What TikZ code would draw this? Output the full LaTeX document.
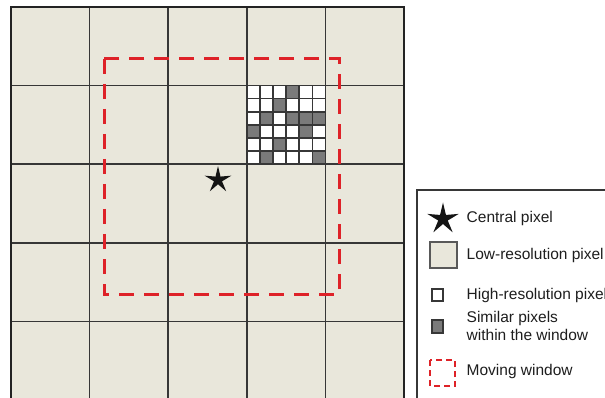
\documentclass[tikz,border=0pt]{standalone}
\usepackage{fontspec}
\setmainfont{Liberation Sans}
\usetikzlibrary{shapes.geometric}
\definecolor{lowres}{RGB}{233,231,219}
\definecolor{simgray}{RGB}{122,122,122}
\definecolor{gridline}{RGB}{55,55,55}
\definecolor{borderc}{RGB}{35,35,35}
\definecolor{winred}{RGB}{222,34,40}
\definecolor{textc}{RGB}{30,30,30}
\tikzset{
  innerline/.style={draw=gridline, line width=1.7},
  outerline/.style={draw=borderc, line width=2.8},
  hrline/.style={draw=gridline, line width=1.6},
  movewin/.style={draw=winred, line width=3, dash pattern=on 15 off 10},
  legwin/.style={draw=winred, line width=1.6, dash pattern=on 6 off 4},
  starmark/.style={star, star points=5, star point ratio=3.3, fill=black!92, draw=none, inner sep=0pt},
  legtext/.style={anchor=west, inner sep=0pt, text=textc, font=\fontsize{15.5}{18}\selectfont, align=left},
}
\begin{document}
\begin{tikzpicture}[x=1pt,y=-1pt]
\useasboundingbox (0,0) rectangle (605,398);
\clip (0,0) rectangle (605,398);
\fill[white] (0,0) rectangle (605,398);
% low-resolution grid
\fill[lowres] (11,7) rectangle (404,401);
% high-resolution block in column 4, row 2
\foreach \c in {0,...,5}{
  \foreach \r in {0,...,5}{
    \fill[white] ({246.8+13.1*\c},{85.6+13.1*\r}) rectangle ++(13.1,13.1);
  }
}
\foreach \c/\r in {4/1,3/2,2/3,4/3,5/3,6/3,1/4,5/4,3/5,2/6,6/6}{
  \fill[simgray] ({246.8+13.1*(\c-1)},{85.6+13.1*(\r-1)}) rectangle ++(13.1,13.1);
}
\foreach \k in {1,...,5}{
  \draw[hrline] ({246.8+13.1*\k},85.6) -- ({246.8+13.1*\k},164.2);
  \draw[hrline] (246.8,{85.6+13.1*\k}) -- (325.4,{85.6+13.1*\k});
}
\foreach \i in {1,...,4}{
  \draw[innerline] ({11+78.6*\i},7) -- ({11+78.6*\i},401);
  \draw[innerline] (11,{7+78.6*\i}) -- (404,{7+78.6*\i});
}
\draw[outerline] (11,402) -- (11,7) -- (404,7) -- (404,402);
% moving window
\draw[movewin] (104,59) -- (104,294) -- (339,294) -- (339,59) -- cycle;
% central pixel
\node[starmark, minimum size=28pt] (cstar) at (218,180) {};
% legend
\draw[draw=gridline, line width=1.4] (417,190) rectangle (620,410);
\node[starmark, minimum size=33pt] (lstar) at (443,219) {};
\node[legtext] (tcentral) at (466.5,218) {Central pixel};
\draw[draw=gray!70!black, fill=lowres, line width=1.1] (430,242) rectangle (457,268);
\node[legtext] (tlow) at (466.5,255) {Low-resolution pixel};
\draw[draw=gridline, fill=white, line width=1.1] (432,289) rectangle (443,301);
\node[legtext] (thigh) at (466.5,295) {High-resolution pixel};
\draw[draw=gridline, fill=simgray, line width=1.1] (432,320) rectangle (443,333);
\node[legtext] (tsim) at (466.5,326) {Similar pixels\\within the window};
\draw[legwin] (430,360) -- (430,386) -- (455,386) -- (455,360) -- cycle;
\node[legtext] (tmove) at (466.5,371) {Moving window};
\end{tikzpicture}
\end{document}
